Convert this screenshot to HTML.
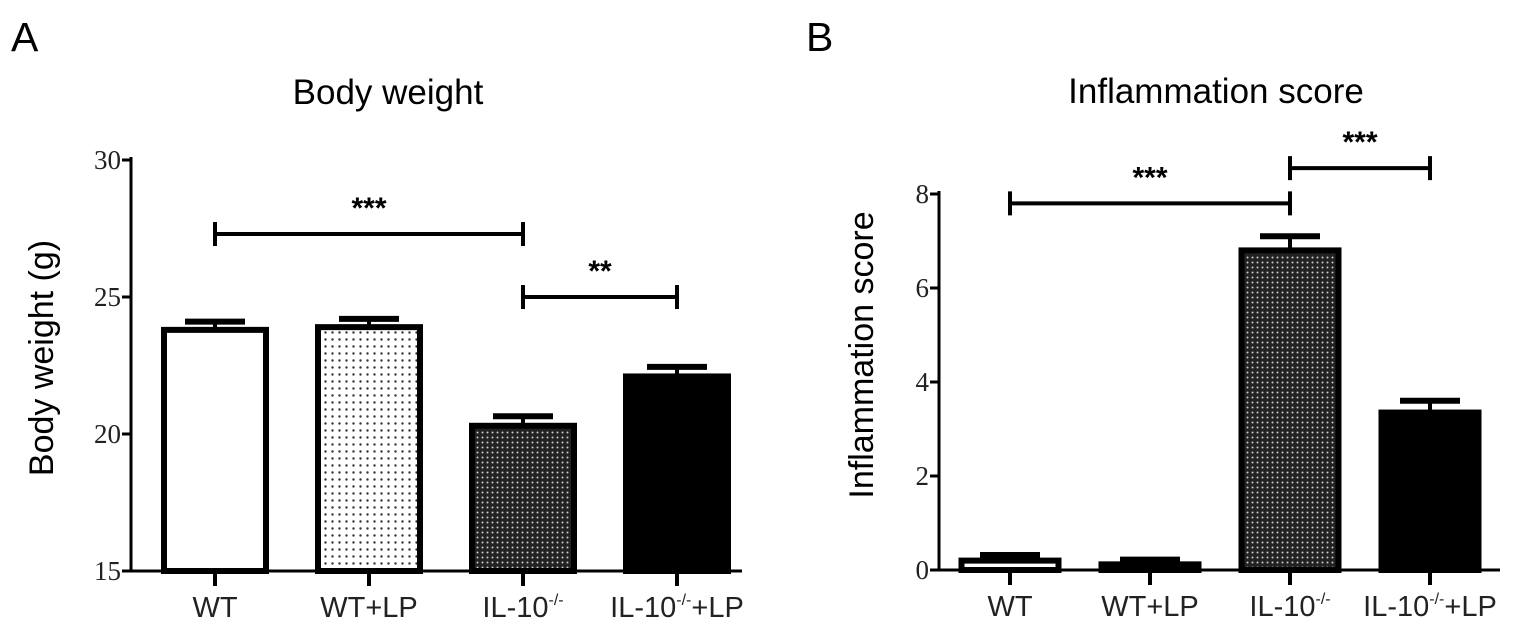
<!DOCTYPE html>
<html><head><meta charset="utf-8"><style>
html,body{margin:0;padding:0;background:#fff;width:1527px;height:640px;overflow:hidden}
svg{display:block}
.sans{font-family:"Liberation Sans",Arial,sans-serif}
.serif{font-family:"Liberation Serif",serif}
</style></head><body>
<svg id="fig" width="1527" height="640" viewBox="0 0 1527 640" xmlns="http://www.w3.org/2000/svg">
<defs>
<pattern id="dotsLight" width="7" height="7" patternUnits="userSpaceOnUse"><rect width="7" height="7" fill="#fff"/><circle cx="3.5" cy="3.5" r="1.2" fill="#333"/></pattern>
<pattern id="dotsDark" width="5" height="5" patternUnits="userSpaceOnUse"><rect width="5" height="5" fill="#222"/><circle cx="2.5" cy="2.5" r="1" fill="#ccc"/></pattern>
</defs>
<text x="11" y="51" class="sans" font-size="41">A</text>
<text x="806" y="51" class="sans" font-size="41">B</text>
<text x="388" y="104" text-anchor="middle" class="sans" font-size="35">Body weight</text>
<text x="1216" y="103" text-anchor="middle" class="sans" font-size="35">Inflammation score</text>
<text transform="translate(53,358) rotate(-90)" text-anchor="middle" class="sans" font-size="34">Body weight (g)</text>
<text transform="translate(873,355) rotate(-90)" text-anchor="middle" class="sans" font-size="34">Inflammation score</text>
<g id="gA"></g>
<g id="gB"></g>
</svg>
<script>
const categories = ["WT","WT+LP","IL-10","IL-10+LP"];
const weightMeans = [23.8, 23.9, 20.3, 22.1];
const weightErrs = [0.3, 0.3, 0.35, 0.35];
const weightTicks = [15, 20, 25, 30];
const scoreMeans = [0.2, 0.12, 6.8, 3.35];
const scoreErrs = [0.12, 0.1, 0.3, 0.25];
const scoreTicks = [0, 2, 4, 6, 8];
const weightSig = [{a:0,b:2,v:27.3,label:"***"},{a:2,b:3,v:25.0,label:"**"}];
const scoreSig = [{a:0,b:2,v:7.8,label:"***"},{a:2,b:3,v:8.55,label:"***"}];
const fills = ["#fff","url(#dotsLight)","url(#dotsDark)","#000"];
const NS = "http://www.w3.org/2000/svg";
function mk(parent, tag, attrs){const e=document.createElementNS(NS,tag);for(const k in attrs)e.setAttribute(k,attrs[k]);parent.appendChild(e);return e;}

function drawChart(g, cfg){
  const {x0,x1,y0,y1,vmin,vmax,means,errs,ticks,sig,xFirst,xStep,barW} = cfg;
  const yS = v => y0 - (v - vmin)/(vmax - vmin)*(y0 - y1);
  const xS = i => xFirst + i*xStep;
  let ax = mk(g,'line',{x1:x0,y1:y1-3,x2:x0,y2:y0,stroke:'#000','stroke-width':3});
  
  
  let bx = mk(g,'line',{x1:x0,y1:y0,x2:x1,y2:y0,stroke:'#000','stroke-width':3});
  
  
  ticks.forEach(t=>{
    const y=yS(t);
    const tl=mk(g,'line',{x1:x0-9,y1:y,x2:x0,y2:y,stroke:'#000','stroke-width':3});
    
    
    const tx=mk(g,'text',{x:x0-10,y:y+9,'text-anchor':'end','font-size':27,'class':'serif',fill:'#222'});
    tx.textContent=t;
    
    
  });
  means.forEach((m,i)=>{
    const cx=xS(i), top=yS(m), e=yS(m+errs[i]);
    const el=mk(g,'line',{x1:cx,y1:top,x2:cx,y2:e,stroke:'#000','stroke-width':4});
    
    
    const cap=mk(g,'line',{x1:cx-30,y1:e,x2:cx+30,y2:e,stroke:'#000','stroke-width':6});
    
    
    const r=mk(g,'rect',{x:cx-barW/2,y:top,width:barW,height:Math.max(0,y0-top),fill:fills[i],stroke:'#000','stroke-width':6});
    
    
    const xt=mk(g,'line',{x1:cx,y1:y0,x2:cx,y2:y0+15,stroke:'#000','stroke-width':4});
    
    
    const lbl=mk(g,'text',{x:cx,y:y0+46,'text-anchor':'middle','font-size':29,'class':'sans',fill:'#222'});
    const name=categories[i];
    if(name.startsWith('IL-10')){
      lbl.appendChild(document.createTextNode('IL-10'));
      const s=mk(lbl,'tspan',{'font-size':16,dy:-12}); s.textContent='-/-';
      if(name.length>5){const s2=mk(lbl,'tspan',{dy:12}); s2.textContent='+LP';}
    } else lbl.textContent=name;
    
    
  });
  sig.forEach(s=>{
    const y=yS(s.v), xa=xS(s.a), xb=xS(s.b);
    const br=mk(g,'path',{d:`M${xa},${y-12}V${y+12}M${xa},${y}H${xb}M${xb},${y-12}V${y+12}`,stroke:'#000','stroke-width':4,fill:'none'});
    
    
    const t=mk(g,'text',{x:(xa+xb)/2,y:y-16,'text-anchor':'middle','font-size':30,'font-weight':'bold','class':'sans'});
    t.textContent=s.label;
    
    
  });
}
drawChart(document.getElementById('gA'),{x0:131,x1:742,y0:571,y1:160,vmin:15,vmax:30,means:weightMeans,errs:weightErrs,ticks:weightTicks,sig:weightSig,xFirst:215,xStep:154,barW:102});
drawChart(document.getElementById('gB'),{x0:939,x1:1500,y0:570,y1:194,vmin:0,vmax:8,means:scoreMeans,errs:scoreErrs,ticks:scoreTicks,sig:scoreSig,xFirst:1010,xStep:140,barW:97});
</script>
</body></html>
